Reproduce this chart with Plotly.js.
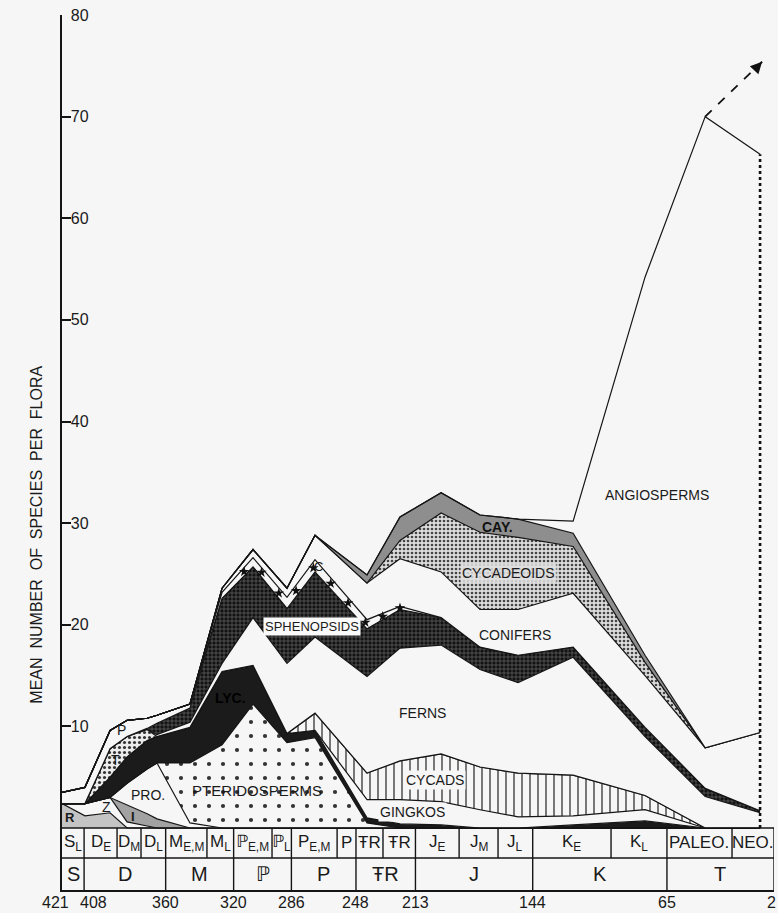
<!DOCTYPE html>
<html><head><meta charset="utf-8">
<script src="https://cdn.plot.ly/plotly-3.0.1.min.js"></script>
<style>html,body{margin:0;padding:0;background:#f5f5f5;} #chart{width:778px;height:913px;}</style>
</head><body><div id="chart"></div>
<script>
// ---- DATA (x = age in Ma; each array = upper edge of the group in the stacked diagram) ----
const ages = [421, 407.5, 392.7, 382.7, 370.9, 365.1, 345.7, 326.8, 308.6, 288.6, 272.1, 241.5, 222.1, 197.9, 175.0, 152.6, 120.2, 77.9, 42.5, 10.2];

const rTop      = [2.4,1.2,1.5,0,0,0,0,0,0,0,0,0,0,0,0,0,0,0,0,0];
const zTop      = [2.4,2.4,3.0,0.6,0.2,0,0,0,0,0,0,0,0,0,0,0,0,0,0,0];
const iTop      = [2.4,2.4,3.0,2.3,1.4,0.9,0,0,0,0,0,0,0,0,0,0,0,0,0,0];
const proTop    = [2.4,2.4,3.0,4.4,5.8,6.4,0.5,0,0,0,0,0,0,0,0,0,0,0,0,0];
const pteridoTop= [2.4,2.4,3.0,4.4,5.8,6.4,6.4,8.2,12.2,8.4,8.9,0.5,0,0,0,0,0,0,0,0];
const lycTop    = [2.4,2.4,5.0,7.0,8.6,9.0,9.9,15.4,16.0,9.3,9.6,1.0,0.4,0.3,0,0,0.3,0.7,0,0];
const ginkgoTop = [2.4,2.4,5.0,7.0,8.6,9.0,9.9,15.4,16.0,9.3,9.6,2.8,2.8,2.6,1.8,1.1,1.2,1.8,0,0];
const cycadTop  = [2.4,2.4,5.0,7.0,8.6,9.0,9.9,15.4,16.0,9.3,11.3,5.4,6.6,7.3,6.0,5.4,5.2,3.2,0,0];
const tTop      = [2.4,2.4,7.8,9.0,9.7,9.0,9.9,15.4,16.0,9.3,11.3,5.4,6.6,7.3,6.0,5.4,5.2,3.2,0,0];
const fernTop   = [2.4,2.4,7.8,9.0,9.7,9.2,10.4,16.2,20.7,16.2,18.8,14.9,17.7,18.0,15.6,14.3,16.8,9.0,3.1,1.5];
const sphenTop  = [2.4,2.4,7.8,9.0,9.8,10.3,11.8,22.6,25.7,21.6,25.2,19.6,21.5,20.7,17.8,17.0,17.8,9.9,3.9,1.7];
const pTop      = [3.5,4.0,9.6,10.6,10.8,11.1,12.2,22.6,25.7,21.6,25.2,19.6,21.5,20.7,17.8,17.0,17.8,9.9,3.9,1.7];
const cTop      = [3.5,4.0,9.6,10.6,10.8,11.1,12.2,23.2,26.6,22.7,26.4,20.5,21.8,20.7,17.8,17.0,17.8,9.9,3.9,1.7];
const coniferTop= [3.5,4.0,9.6,10.6,10.8,11.1,12.2,23.6,27.4,23.6,28.8,24.1,26.5,25.2,21.5,21.5,23.1,15.0,7.9,9.4];
const cycadeoidTop=[3.5,4.0,9.6,10.6,10.8,11.1,12.2,23.6,27.4,23.6,28.8,24.1,28.3,31.0,29.1,28.6,27.7,16.3,7.9,9.4];
const cayTop    = [3.5,4.0,9.6,10.6,10.8,11.1,12.2,23.6,27.4,23.6,28.8,24.9,30.6,33.0,30.8,30.4,29.0,17.0,7.9,9.4];
const angioTop  = [3.5,4.0,9.6,10.6,10.8,11.1,12.2,23.6,27.4,23.6,28.8,24.9,30.6,33.0,30.8,30.4,30.2,54.2,70.0,66.3];

const arrowTip = {age: 9.0, value: 75.4};   // end of the dashed "still rising" arrow

const yTicks = [10,20,30,40,50,60,70,80];
const ageTicks = [421,408,360,320,286,248,213,144,65,2];
const periodBounds = [408,360,320,286,248,213,144,65];
const stageBounds = [388.6,374.5,335.7,297.4,259.1,232.1,187.3,164.4,97.9,26.7];
const PENN = '<span style="font-family:DejaVu Sans">ℙ</span>';
const stageLabels = ['S<sub>L</sub>','D<sub>E</sub>','D<sub>M</sub>','D<sub>L</sub>','M<sub>E,M</sub>','M<sub>L</sub>',PENN+'<sub>E,M</sub>',PENN+'<sub>L</sub>','P<sub>E,M</sub>','P','ŦR','ŦR','J<sub>E</sub>','J<sub>M</sub>','J<sub>L</sub>','K<sub>E</sub>','K<sub>L</sub>','PALEO.','NEO.'];
const periodLabels = ['S','D','M',PENN,'P','ŦR','J','K','T'];

// ---- DRAWING ----
const BG = '#f6f6f6';
const LINE = {color:'#151515', width:1.2, shape:'linear'};
const layers = [
  {y:rTop, fillcolor:'#c4c4c4'},
  {y:zTop, fillcolor:BG},
  {y:iTop, fillcolor:'#a2a2a2'},
  {y:proTop, fillcolor:BG},
  {y:pteridoTop, fillpattern:{shape:'.', bgcolor:BG, fgcolor:'#333', size:14, solidity:0.07}},
  {y:lycTop, fillcolor:'#1b1b1b'},
  {y:ginkgoTop, fillcolor:BG},
  {y:cycadTop, fillpattern:{shape:'|', bgcolor:BG, fgcolor:'#222', size:8, solidity:0.15}},
  {y:tTop, fillpattern:{shape:'.', bgcolor:'#ececec', fgcolor:'#333', size:5, solidity:0.3}},
  {y:fernTop, fillcolor:BG},
  {y:sphenTop, fillpattern:{shape:'+', bgcolor:'#121212', fgcolor:'#7a7a7a', size:4, solidity:0.25}},
  {y:pTop, fillcolor:BG},
  {y:cTop, fillcolor:BG},
  {y:coniferTop, fillcolor:BG},
  {y:cycadeoidTop, fillpattern:{shape:'.', bgcolor:'#dcdcdc', fgcolor:'#444', size:4, solidity:0.35}},
  {y:cayTop, fillcolor:'#8e8e8e'},
  {y:angioTop, fillcolor:BG}
];
const traces = layers.map((L,i) => {
  const t = {x:ages, y:L.y, mode:'lines', line:LINE, fill: i===0 ? 'tozeroy' : 'tonexty', hoverinfo:'skip'};
  if (L.fillpattern) { t.fillpattern = L.fillpattern; t.fillcolor = L.fillpattern.bgcolor; }
  else t.fillcolor = L.fillcolor;
  return t;
});

function interp(arr, a) {
  for (let k=0;k<ages.length-1;k++){
    const a0=ages[k], a1=ages[k+1];
    if (a<=a0 && a>=a1){ const f=(a0-a)/(a0-a1); return arr[k]+f*(arr[k+1]-arr[k]); }
  }
  return arr[arr.length-1];
}
// star markers along the "C" band
const starX=[], starY=[];
const cStart = ages[7]-13, cEnd = ages[12];
for (let a=cStart; a>=cEnd-0.1; a-= (cStart-cEnd)/9){ starX.push(a); starY.push((interp(sphenTop,a)+interp(cTop,a))/2); }
traces.push({x:starX, y:starY, mode:'markers', marker:{symbol:'star', size:8, color:'#111'}, hoverinfo:'skip'});

// Neogene dotted drop line and dashed arrow
const last = ages.length-1;
traces.push({x:[ages[last],ages[last]], y:[0, angioTop[last]], mode:'lines', line:{color:'#111', width:2.6, dash:'dot'}, hoverinfo:'skip'});
traces.push({x:[ages[last-1], arrowTip.age], y:[angioTop[last-1], arrowTip.value], mode:'lines', line:{color:'#111', width:1.8, dash:'dash'}, hoverinfo:'skip'});

const F = 'Liberation Sans, Arial, sans-serif';
function lab(text, age, v, opt={}) {
  return Object.assign({x:age, y:v, xref:'x', yref:'y', text, showarrow:false, font:{family:F, size:13, color:'#1a1a1a'}}, opt);
}
const annotations = [
  lab('ANGIOSPERMS', 70.8, 32.8, {font:{family:F,size:14,color:'#1a1a1a'}}),
  lab('<b>CAY.</b>', 165, 29.6, {font:{family:F,size:14,color:'#111'}}),
  lab('CYCADEOIDS', 158.5, 25.1, {font:{family:F,size:14,color:'#1a1a1a'}, bgcolor:'rgba(225,225,225,0.85)'}),
  lab('CONIFERS', 154.4, 19.0, {font:{family:F,size:14,color:'#1a1a1a'}}),
  lab('FERNS', 209, 11.3, {font:{family:F,size:14,color:'#1a1a1a'}}),
  lab('SPHENOPSIDS', 273.9, 19.8, {font:{family:F,size:13,color:'#1a1a1a'}, bgcolor:'#fafafa', borderpad:1}),
  lab('CYCADS', 201.5, 4.7, {font:{family:F,size:14,color:'#1a1a1a'}, bgcolor:BG}),
  lab('GINGKOS', 215, 1.6, {font:{family:F,size:14,color:'#1a1a1a'}, bgcolor:BG}),
  lab('PTERIDOSPERMS', 306.2, 3.7, {font:{family:F,size:15,color:'#1a1a1a'}}),
  lab('PRO.', 370.4, 3.2, {font:{family:F,size:14,color:'#1a1a1a'}}),
  lab('<b>LYC.</b>', 322, 12.8, {font:{family:F,size:14,color:'#000'}}),
  lab('P', 385.7, 9.6, {font:{family:F,size:14,color:'#1a1a1a'}}),
  lab('T', 389.8, 6.7, {font:{family:F,size:14,color:'#1a1a1a'}}),
  lab('Z', 395, 2.1, {font:{family:F,size:14,color:'#1a1a1a'}}),
  lab('<b>I</b>', 379.2, 1.1, {font:{family:F,size:13,color:'#1a1a1a'}}),
  lab('<b>R</b>', 416.3, 1.0, {font:{family:F,size:13,color:'#1a1a1a'}}),
  lab('C', 270.3, 25.7, {font:{family:F,size:13,color:'#1a1a1a'}}),
  {xref:'paper', yref:'paper', x:-0.05, y:0.406, text:'MEAN  NUMBER  OF  SPECIES  PER  FLORA', textangle:-90, showarrow:false, font:{family:F, size:16, color:'#1a1a1a'}},
  {x:arrowTip.age, y:arrowTip.value, xref:'x', yref:'y', ax:-7, ay:7.5, text:'', showarrow:true, arrowhead:2, arrowsize:1.3, arrowwidth:1.8, arrowcolor:'#111'}
];
// age numbers under the table
const ageShift = {421:-7, 408:9, 2:-3};
ageTicks.forEach(a => annotations.push({x:a, y:0, xref:'x', yref:'paper', yanchor:'top', yshift:-2, xshift:ageShift[a]||0,
  text:String(a), showarrow:false, font:{family:F, size:16, color:'#1a1a1a'}}));
// table labels
const stageEdges = [421,408,388.6,374.5,360,335.7,320,297.4,286,259.1,248,232.1,213,187.3,164.4,144,97.9,65,26.7,2];
for (let k=0;k<stageLabels.length;k++){
  annotations.push({x:(stageEdges[k]+stageEdges[k+1])/2, y:-1.47, xref:'x', yref:'y', text:stageLabels[k], showarrow:false, font:{family:F, size:17, color:'#1a1a1a'}});
}
const periodEdges = [421,408,360,320,286,248,213,144,65,2];
for (let k=0;k<periodLabels.length;k++){
  annotations.push({x:(periodEdges[k]+periodEdges[k+1])/2, y:-4.55, xref:'x', yref:'y', text:periodLabels[k], showarrow:false, font:{family:F, size:20, color:'#1a1a1a'}});
}

const shapes = [];
const L2 = {color:'#151515', width:1.4};
shapes.push({type:'line', xref:'x', yref:'y', x0:421, x1:2, y0:0, y1:0, line:L2});
shapes.push({type:'line', xref:'x', yref:'y', x0:421, x1:2, y0:-2.95, y1:-2.95, line:L2});
shapes.push({type:'line', xref:'x', yref:'y', x0:2, x1:2, y0:-6.1, y1:0, line:L2});
periodBounds.forEach(b => shapes.push({type:'line', xref:'x', yref:'y', x0:b, x1:b, y0:-6.1, y1:0, line:L2}));
stageBounds.forEach(b => shapes.push({type:'line', xref:'x', yref:'y', x0:b, x1:b, y0:-2.95, y1:0, line:L2}));

const layout = {
  width:778, height:913,
  margin:{l:62, r:4, t:15, b:23},
  paper_bgcolor:BG, plot_bgcolor:BG,
  showlegend:false,
  xaxis:{range:[421,2], showgrid:false, zeroline:false, showline:true, linecolor:'#151515', linewidth:1.5,
         ticks:'', showticklabels:false},
  yaxis:{range:[-6.1,80], showgrid:false, zeroline:false, showline:true, linecolor:'#151515', linewidth:2,
         ticks:'inside', ticklen:9, tickwidth:2, tickcolor:'#151515', tickvals:yTicks, ticklabelposition:'inside',
         ticklabeloverflow:'allow', tickfont:{family:F, size:16, color:'#1a1a1a'}},
  annotations, shapes
};
Plotly.newPlot('chart', traces, layout, {staticPlot:true});
</script></body></html>
